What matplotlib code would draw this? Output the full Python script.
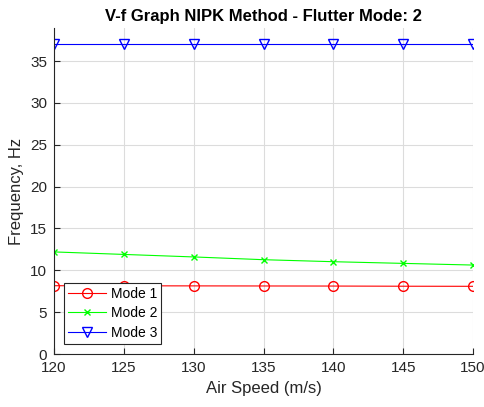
import matplotlib
matplotlib.use("Agg")
import matplotlib.pyplot as plt

plt.rcParams['font.family'] = ['Liberation Sans', 'DejaVu Sans']

speed = [120, 125, 130, 135, 140, 145, 150]
mode1 = [8.16, 8.15, 8.14, 8.13, 8.12, 8.10, 8.09]
mode2 = [12.2, 11.9, 11.6, 11.27, 11.03, 10.83, 10.63]
mode3 = [37.1, 37.1, 37.1, 37.1, 37.1, 37.1, 37.1]
xticks = [120, 125, 130, 135, 140, 145, 150]
yticks = [0, 5, 10, 15, 20, 25, 30, 35]

fig = plt.figure(figsize=(4.85, 4.07), dpi=100)
ax = fig.add_axes([54/485, 1-354/407, (473-54)/485, (354-28)/407])

ax.plot(speed, mode1, color='#ff0000', marker='o', markersize=7, markerfacecolor='none', lw=0.8, label='Mode 1')
ax.plot(speed, mode2, color='#00ff00', marker='x', markersize=5, lw=0.8, label='Mode 2')
ax.plot(speed, mode3, color='#0000ff', marker='v', markersize=7, markerfacecolor='none', lw=0.8, label='Mode 3')

ax.set_xlim(120, 150)
ax.set_ylim(0, 38.96)
ax.set_xticks(xticks)
ax.set_yticks(yticks)
ax.grid(True, color='#dcdcdc', lw=0.8)
ax.set_axisbelow(True)
for s in ['top', 'right']:
    ax.spines[s].set_visible(False)
for s in ['left', 'bottom']:
    ax.spines[s].set_color('#262626')
ax.tick_params(direction='in', length=4, labelsize=11, colors='#262626', pad=5)

ax.set_xlabel('Air Speed (m/s)', fontsize=12, color='#262626')
ax.set_ylabel('Frequency, Hz', fontsize=12, color='#262626')
ax.set_title('V-f Graph NIPK Method - Flutter Mode: 2', fontsize=12, fontweight='bold', pad=5)

leg = ax.legend(loc='lower left', bbox_to_anchor=(10/419, 10/326), fontsize=10,
                fancybox=False, framealpha=1, edgecolor='#262626', borderpad=0.3,
                handlelength=2.7, handletextpad=0.35, labelspacing=0.4, borderaxespad=0)
leg.get_frame().set_linewidth(0.8)

fig.savefig('out.png', dpi=100)
